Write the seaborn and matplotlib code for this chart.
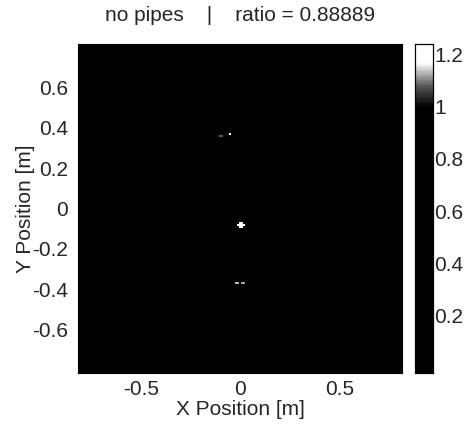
import numpy as np
import pandas as pd
import matplotlib
matplotlib.use('Agg')
import matplotlib.pyplot as plt
import seaborn as sns
from matplotlib.colors import LinearSegmentedColormap

## data
cell = 0.01          # grid step [m]
half_width = 0.815   # map spans -0.815 .. 0.815 in x and y
background = 0.6     # ratio everywhere without a feature (renders black)

# bright cells (x, y in m, value)
spot_x = [0.00, 0.01, -0.01, 0.00, 0.01, 0.02, 0.00, 0.01,
          -0.02, -0.01, 0.01, 0.02,
          -0.05, -0.10, -0.09]
spot_y = [-0.07, -0.07, -0.08, -0.08, -0.08, -0.08, -0.09, -0.09,
          -0.37, -0.37, -0.37, -0.37,
          0.37, 0.36, 0.36]
spot_val = [1.24, 1.24, 1.24, 1.24, 1.24, 1.24, 1.24, 1.24,
            1.13, 1.13, 1.12, 1.12,
            1.24, 1.08, 1.08]

x_ticks = [-0.5, 0, 0.5]
y_ticks = [-0.6, -0.4, -0.2, 0, 0.2, 0.4, 0.6]
cbar_ticks = [0.2, 0.4, 0.6, 0.8, 1, 1.2]
vmin, vmax = -0.02, 1.24

title = 'no pipes    |    ratio = 0.88889'

## grid
n = int(round(2 * half_width / cell))
centers = np.round(-half_width + cell / 2 + cell * np.arange(n), 3)
grid = pd.DataFrame(background, index=centers, columns=centers)
for x, y, v in zip(spot_x, spot_y, spot_val):
    i = int(np.argmin(np.abs(centers - y)))
    j = int(np.argmin(np.abs(centers - x)))
    grid.iat[i, j] = v

# gray map, flat black until ~1 then up to white (as in the scan)
span = vmax - vmin
cmap = LinearSegmentedColormap.from_list(
    'scan_gray',
    [(0.0, 'black'), ((1.0 - vmin) / span, 'black'),
     ((1.08 - vmin) / span, '#555555'), ((1.17 - vmin) / span, 'white'),
     (1.0, 'white')])

## plot
sns.set_style('white')
plt.rcParams['font.family'] = ['Liberation Sans', 'DejaVu Sans']
fs = 15

fig = plt.figure(figsize=(4.74, 4.29), dpi=100)
ax = fig.add_axes([0.1646, 0.1305, 0.6835, 0.767])
cax = fig.add_axes([0.8755, 0.1305, 0.038, 0.767])

sns.heatmap(grid, ax=ax, cbar_ax=cax, cmap=cmap, vmin=vmin, vmax=vmax,
            xticklabels=False, yticklabels=False)
ax.invert_yaxis()

def pos(v):
    return (v + half_width) / cell

ax.set_xticks([pos(v) for v in x_ticks])
ax.set_xticklabels(['-0.5', '0', '0.5'])
ax.set_yticks([pos(v) for v in y_ticks])
ax.set_yticklabels(['-0.6', '-0.4', '-0.2', '0', '0.2', '0.4', '0.6'])
ax.tick_params(axis='x', direction='in', length=4, pad=5, labelsize=fs,
               rotation=0)
ax.tick_params(axis='y', direction='in', length=4, pad=7, labelsize=fs,
               rotation=0)
ax.set_xlabel('X Position [m]', fontsize=fs, labelpad=1)
ax.set_ylabel('Y Position [m]', fontsize=fs, labelpad=-2)
ax.set_title(title, fontsize=fs, pad=16.5)
for s in ax.spines.values():
    s.set_visible(True)
    s.set_color('black')
    s.set_linewidth(0.8)

cax.set_yticks(cbar_ticks)
cax.set_yticklabels(['0.2', '0.4', '0.6', '0.8', '1', '1.2'])
cax.tick_params(direction='in', length=4, pad=1, labelsize=fs)
for s in cax.spines.values():
    s.set_visible(True)
    s.set_color('black')
    s.set_linewidth(0.8)

fig.savefig('out.png', dpi=100)
